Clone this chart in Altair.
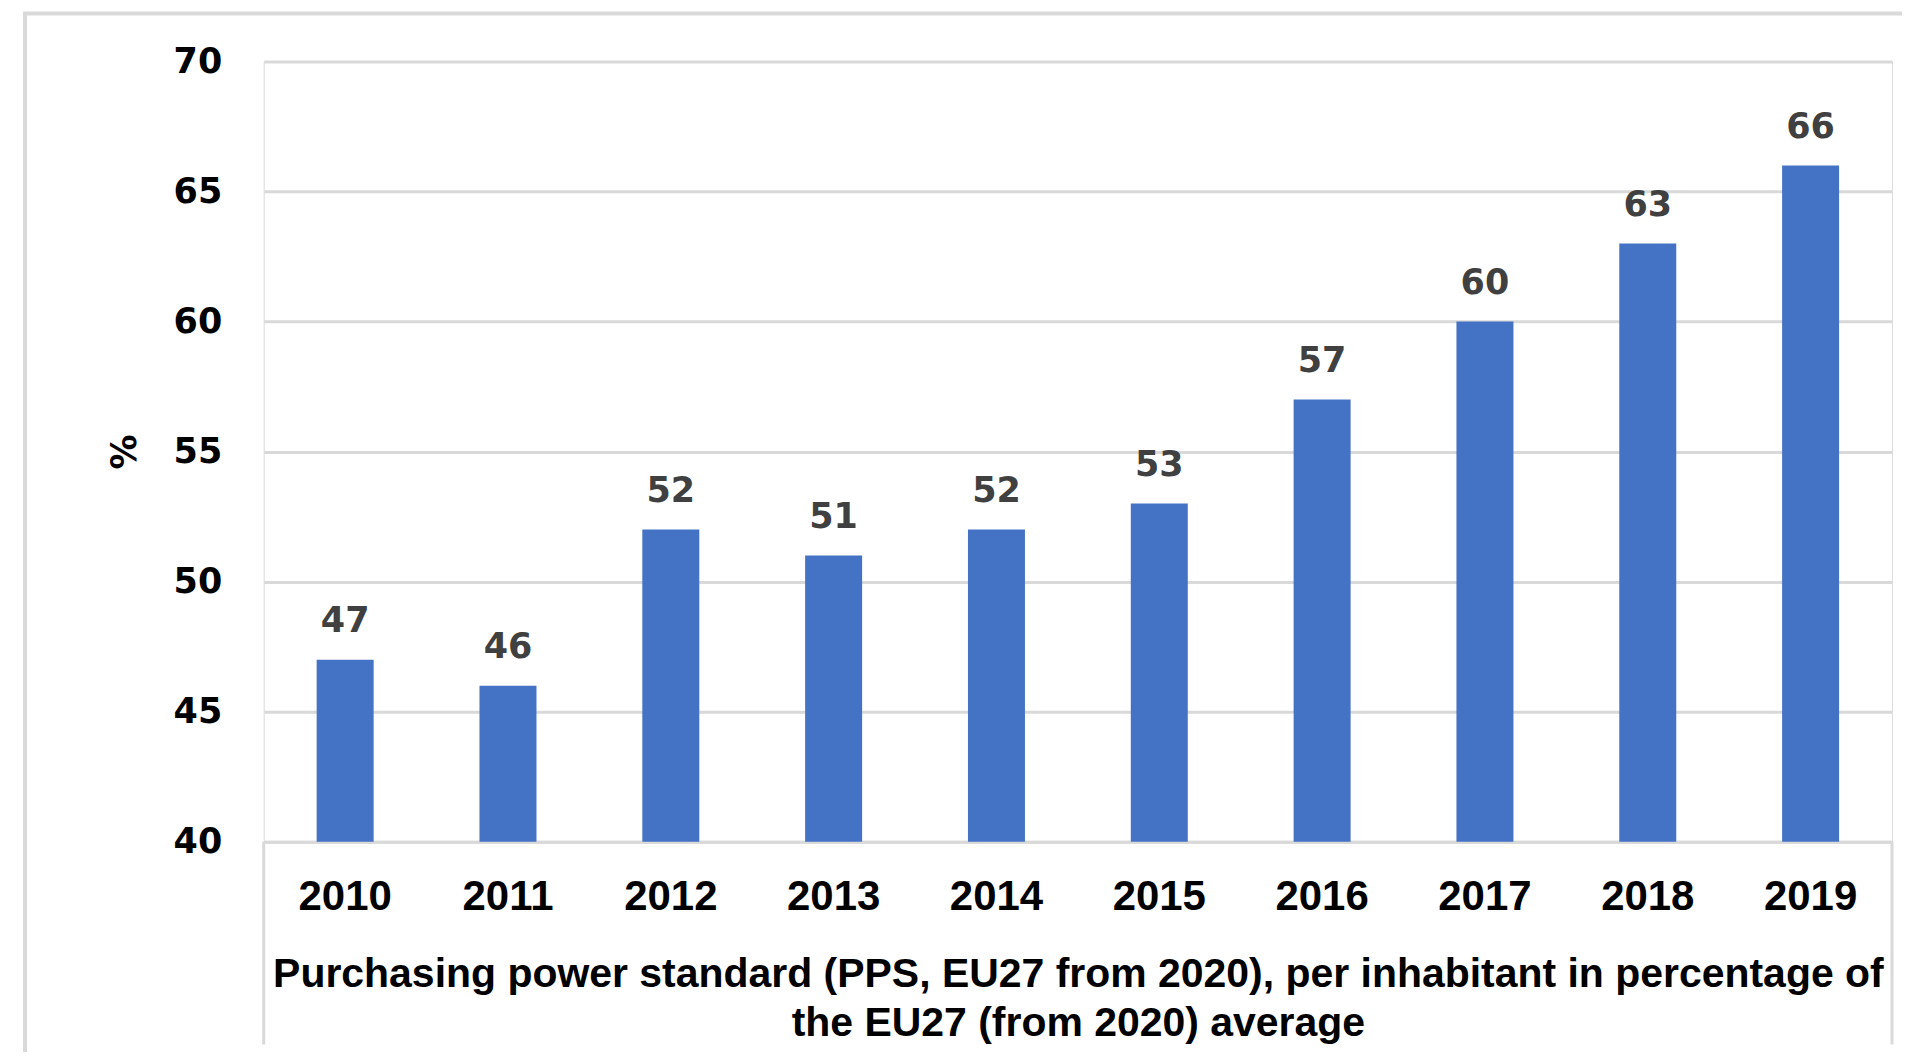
import altair as alt
import pandas as pd

years = ["2010", "2011", "2012", "2013", "2014", "2015", "2016", "2017", "2018", "2019"]
values = [47, 46, 52, 51, 52, 53, 57, 60, 63, 66]
y_ticks = [40, 45, 50, 55, 60, 65, 70]
x_title = ["Purchasing power standard (PPS, EU27 from 2020), per inhabitant in percentage of",
           "the EU27 (from 2020) average"]
y_title = "%"

df = pd.DataFrame({"year": years, "value": values})

W, H = 1630, 781
GRID = "#d9d9d9"

x_enc = alt.X("year:N", sort=years,
              scale=alt.Scale(paddingInner=0.65, paddingOuter=0.325),
              axis=alt.Axis(title=x_title, labelAngle=0, ticks=False, tickSize=0,
                            domain=True, domainColor=GRID, domainWidth=3,
                            labelFont="Liberation Sans", labelFontSize=42, labelFontWeight="bold",
                            labelColor="#000000", labelBaseline="alphabetic", labelPadding=68,
                            titleFont="Liberation Sans", titleFontSize=41, titleFontWeight="bold",
                            titleColor="#000000", titleBaseline="alphabetic", titleY=145,
                            titleLineHeight=49, titleAnchor="middle"))
y_scale = alt.Scale(domain=[40, 70], zero=False, nice=False)
y_enc = alt.Y("value:Q", scale=y_scale,
              axis=alt.Axis(title=y_title, values=y_ticks, grid=True, gridColor=GRID, gridWidth=3,
                            domain=False, ticks=False, tickSize=0,
                            labelFont="DejaVu Sans", labelFontSize=35, labelFontWeight="bold",
                            labelColor="#000000", labelPadding=42, labelBaseline="middle",
                            titleFont="DejaVu Sans", titleFontSize=35, titleFontWeight="bold",
                            titleColor="#000000", titleX=-139, titleY=H / 2, titleAngle=270,
                            titleBaseline="middle", titleAlign="center"))

base = alt.Chart(df)

bars = base.mark_bar(color="#4472C4").encode(x=x_enc, y=y_enc, y2=alt.datum(40))

labels = base.mark_text(font="DejaVu Sans", fontSize=35, fontWeight="bold", color="#404040",
                        baseline="alphabetic", dy=-28).encode(
    x=alt.X("year:N", sort=years), y=alt.Y("value:Q", scale=y_scale), text="value:Q")

rule_df = pd.DataFrame({"k": [0]})
frame_left = alt.Chart(rule_df).mark_rule(color=GRID, strokeWidth=4).encode(
    x=alt.value(-239), y=alt.value(-48), y2=alt.value(H + 230))
frame_top = alt.Chart(rule_df).mark_rule(color=GRID, strokeWidth=4).encode(
    x=alt.value(-241), x2=alt.value(W + 30), y=alt.value(-48))
box_left = alt.Chart(rule_df).mark_rule(color=GRID, strokeWidth=3).encode(
    x=alt.value(0), y=alt.value(H), y2=alt.value(H + 203))
box_right = alt.Chart(rule_df).mark_rule(color=GRID, strokeWidth=3).encode(
    x=alt.value(W), y=alt.value(H), y2=alt.value(H + 203))

chart = alt.layer(bars, labels, frame_left, frame_top, box_left, box_right).properties(
    width=W, height=H,
    autosize=alt.AutoSizeParams(type="none"),
    padding={"left": 256, "top": 53, "right": 10, "bottom": 210},
).configure_view(stroke=None).configure(background="#ffffff")

chart.save("out.html", embed_options={"renderer": "svg", "actions": False})
